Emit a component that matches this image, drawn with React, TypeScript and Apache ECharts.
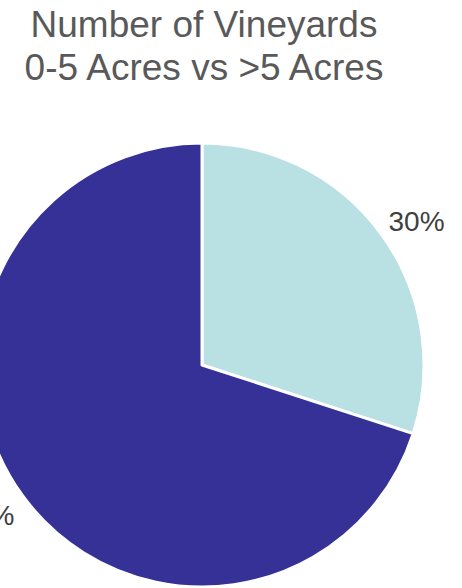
import React, { useEffect, useRef } from "react";
import * as echarts from "echarts";

const titleLines = ["Number of Vineyards", "0-5 Acres vs >5 Acres"];
const categories = ["0-5 Acres", ">5 Acres"];
const values = [30, 70];
const colors = ["#B9E0E3", "#353197"];
const labelShift = [
  { dx: -11, dy: -4 },
  { dx: 10, dy: 11 },
];

export default function App() {
  const ref = useRef<HTMLDivElement>(null);
  useEffect(() => {
    if (!ref.current) return;
    const chart = echarts.init(ref.current, null, { renderer: "svg" });
    chart.setOption({
      animation: false,
      backgroundColor: "#ffffff",
      title: {
        text: titleLines.join("\n"),
        left: 204,
        top: 3,
        textAlign: "center",
        padding: 0,
        textStyle: {
          fontFamily: "Liberation Sans, Arial, sans-serif",
          fontSize: 37,
          fontWeight: "normal",
          color: "#595959",
          lineHeight: 43,
        },
      },
      series: [
        {
          type: "pie",
          center: [202, 365],
          radius: 222,
          startAngle: 90,
          clockwise: true,
          avoidLabelOverlap: false,
          label: {
            show: true,
            position: "outside",
            formatter: "{d}%",
            overflow: "none",
            fontFamily: "Liberation Sans, Arial, sans-serif",
            fontSize: 28,
            color: "#404040",
          },
          labelLayout: (p: any) => labelShift[p.dataIndex] || {},
          labelLine: { show: false, length: 16, length2: 0 },
          itemStyle: { borderColor: "#ffffff", borderWidth: 3 },
          data: categories.map((name, i) => ({
            name,
            value: values[i],
            itemStyle: { color: colors[i] },
          })),
        },
      ],
    });
    return () => chart.dispose();
  }, []);
  return (
    <div
      ref={ref}
      style={{ position: "absolute", left: 0, top: 0, width: 462, height: 588 }}
    />
  );
}
